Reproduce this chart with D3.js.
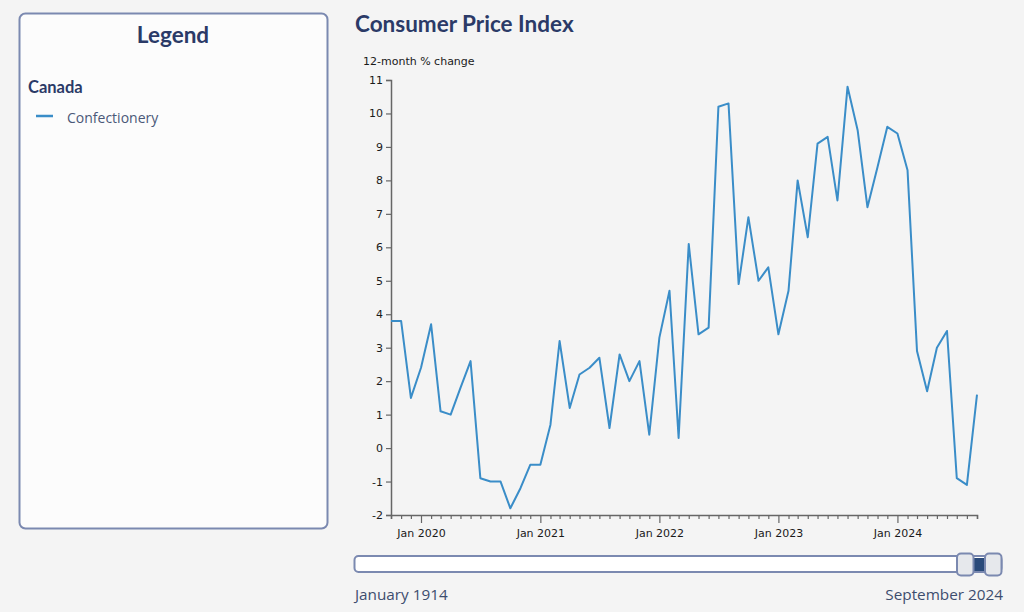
<!DOCTYPE html>
<html>
<head>
<meta charset="utf-8">
<script src="https://cdn.jsdelivr.net/npm/d3@7"></script>
<style>
  html, body { margin: 0; padding: 0; background: #f4f4f4; }
  svg { display: block; }
</style>
</head>
<body>
<svg id="chart" width="1024" height="612"></svg>
<script>
// ---- Data ----
const startMonth = "2019-10"; // first observation (October 2019)
const seriesName = "Confectionery";
const regionName = "Canada";
const values = [
  3.8, 3.8, 1.5, 2.4, 3.7, 1.1, 1.0, 1.8, 2.6, -0.9, -1.0, -1.0,
  -1.8, -1.2, -0.5, -0.5, 0.7, 3.2, 1.2, 2.2, 2.4, 2.7, 0.6, 2.8,
  2.0, 2.6, 0.4, 3.3, 4.7, 0.3, 6.1, 3.4, 3.6, 10.2, 10.3, 4.9,
  6.9, 5.0, 5.4, 3.4, 4.7, 8.0, 6.3, 9.1, 9.3, 7.4, 10.8, 9.5,
  7.2, 8.4, 9.6, 9.4, 8.3, 2.9, 1.7, 3.0, 3.5, -0.9, -1.1, 1.6
];
const yTicks = [-2, -1, 0, 1, 2, 3, 4, 5, 6, 7, 8, 9, 10, 11];
const sliderStartLabel = "January 1914";
const sliderEndLabel = "September 2024";

const parseMonth = d3.timeParse("%Y-%m");
const t0 = parseMonth(startMonth);
const data = values.map((v, i) => ({ date: d3.timeMonth.offset(t0, i), value: v }));

const svg = d3.select("#chart");
const navy = "#2b3a67";
const lineColor = "#3a8dc8";
const borderColor = "#7b89b0";

// ---- Legend panel ----
svg.append("rect")
  .attr("x", 19.5).attr("y", 13.5).attr("width", 308).attr("height", 515)
  .attr("rx", 6).attr("ry", 6)
  .attr("fill", "#fcfcfc").attr("stroke", borderColor).attr("stroke-width", 2);
svg.append("text")
  .attr("x", 173).attr("y", 43).attr("text-anchor", "middle")
  .style("font-family", "Lato, sans-serif").style("font-weight", "bold")
  .style("font-size", "22.5px").attr("fill", navy).text("Legend");
svg.append("text")
  .attr("x", 28).attr("y", 93)
  .style("font-family", "Lato, sans-serif").style("font-weight", "bold")
  .style("font-size", "16.5px").attr("fill", navy).text(regionName);
svg.append("line")
  .attr("x1", 36).attr("x2", 53).attr("y1", 116).attr("y2", 116)
  .attr("stroke", lineColor).attr("stroke-width", 2.5);
svg.append("text")
  .attr("x", 67).attr("y", 123)
  .style("font-family", "'Open Sans', sans-serif")
  .style("font-size", "14px").attr("fill", "#4a5878").text(seriesName);

// ---- Title ----
svg.append("text")
  .attr("x", 355).attr("y", 32)
  .style("font-family", "Lato, sans-serif").style("font-weight", "bold")
  .style("font-size", "22.5px").attr("fill", navy).text("Consumer Price Index");

// ---- Scales ----
const x = d3.scaleTime()
  .domain([data[0].date, data[data.length - 1].date])
  .range([391, 977]);
const y = d3.scaleLinear().domain([-2, 11]).range([515, 80]);

// ---- Axes ----
const axisFont = "'DejaVu Sans', Verdana, sans-serif";
const yAxis = svg.append("g")
  .attr("transform", "translate(391,0)")
  .call(d3.axisLeft(y).tickValues(yTicks).tickSize(5).tickPadding(3).tickFormat(d => String(d)));
const xAxis = svg.append("g")
  .attr("transform", "translate(0,515)")
  .call(d3.axisBottom(x)
    .ticks(d3.timeMonth.every(1))
    .tickSize(4)
    .tickPadding(8)
    .tickFormat(d => d.getMonth() === 0 ? d3.timeFormat("Jan %Y")(d) : ""));
xAxis.selectAll(".tick").filter(d => d.getMonth() === 0)
  .select("line").attr("y2", 8);
xAxis.selectAll(".tick text").attr("dy", "0.9em");

[yAxis, xAxis].forEach(g => {
  g.select(".domain").attr("stroke", "#666").attr("stroke-width", 1.5);
  g.selectAll(".tick line").attr("stroke", "#666").attr("stroke-width", 1.2);
  g.selectAll(".tick text")
    .style("font-family", axisFont).style("font-size", "11px").attr("fill", "#1a1a1a");
});

svg.append("text")
  .attr("x", 363).attr("y", 65)
  .style("font-family", axisFont).style("font-size", "11px")
  .attr("fill", "#1a1a1a").text("12-month % change");

// ---- Line ----
const line = d3.line().x(d => x(d.date)).y(d => y(d.value));
svg.append("path")
  .datum(data)
  .attr("fill", "none").attr("stroke", lineColor)
  .attr("stroke-width", 2).attr("stroke-linejoin", "round")
  .attr("d", line);

// ---- Range slider ----
const slider = svg.append("g");
slider.append("rect")
  .attr("x", 354.5).attr("y", 556).attr("width", 647).attr("height", 16)
  .attr("rx", 4).attr("fill", "#ffffff").attr("stroke", borderColor).attr("stroke-width", 2);
slider.append("rect")
  .attr("x", 972).attr("y", 558).attr("width", 14).attr("height", 13)
  .attr("fill", "#2a4a7a");
[957, 985].forEach(hx => {
  slider.append("rect")
    .attr("x", hx).attr("y", 553.5).attr("width", 16.5).attr("height", 22)
    .attr("rx", 4).attr("fill", "#e6e8ec").attr("stroke", borderColor).attr("stroke-width", 2);
});
slider.append("text")
  .attr("x", 355).attr("y", 600)
  .style("font-family", "'Open Sans', sans-serif").style("font-size", "15.3px")
  .attr("fill", "#3d4d6e").text(sliderStartLabel);
slider.append("text")
  .attr("x", 1003).attr("y", 600).attr("text-anchor", "end")
  .style("font-family", "'Open Sans', sans-serif").style("font-size", "15.3px")
  .attr("fill", "#3d4d6e").text(sliderEndLabel);
</script>
</body>
</html>
